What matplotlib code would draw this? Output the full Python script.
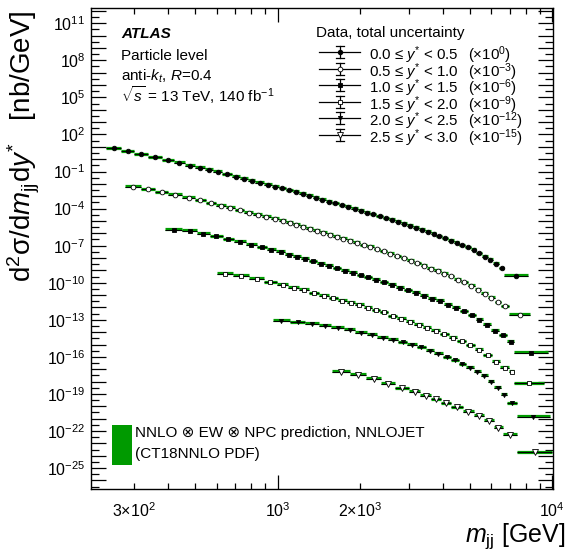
import numpy as np
import matplotlib
matplotlib.use("Agg")
import matplotlib.pyplot as plt
from matplotlib.ticker import FixedLocator, NullFormatter, LogFormatterSciNotation

plt.rcParams['font.family'] = ['Liberation Sans', 'DejaVu Sans']
plt.rcParams['mathtext.fontset'] = 'custom'
plt.rcParams['mathtext.rm'] = 'Liberation Sans'
plt.rcParams['mathtext.it'] = 'Liberation Sans:italic'
plt.rcParams['mathtext.bf'] = 'Liberation Sans:bold'

# ---------------- data (nb/GeV, before the legend multipliers) ----------------
ystar_labels = ["0.0 ≤ $y^{*}$ < 0.5", "0.5 ≤ $y^{*}$ < 1.0", "1.0 ≤ $y^{*}$ < 1.5",
                "1.5 ≤ $y^{*}$ < 2.0", "2.0 ≤ $y^{*}$ < 2.5", "2.5 ≤ $y^{*}$ < 3.0"]
multiplier_labels = ["(×10$^{0}$)", "(×10$^{-3}$)", "(×10$^{-6}$)",
                     "(×10$^{-9}$)", "(×10$^{-12}$)", "(×10$^{-15}$)"]
multipliers = [1e0, 1e-3, 1e-6, 1e-9, 1e-12, 1e-15]

edges_y0 = [238, 269, 300, 338, 378, 419, 460, 501, 542, 583, 628, 680, 730, 779, 830, 890,
            950, 1010, 1070, 1133, 1199, 1268, 1340, 1416, 1496, 1580, 1668, 1760, 1857,
            1958, 2064, 2175, 2291, 2412, 2539, 2672, 2811, 2956, 3108, 3267, 3433, 3606,
            3787, 3976, 4173, 4379, 4594, 4818, 5052, 5296, 5550, 5815, 6091, 6379, 6700, 8130]
xsec_y0 = [7.6, 4.3, 2.45, 1.41, 8.1e-1, 4.9e-1, 2.95e-1, 1.91e-1, 1.32e-1, 9.1e-2,
           5.9e-2, 3.8e-2, 2.63e-2, 1.82e-2, 1.23e-2, 8.5e-3, 6.0e-3, 4.4e-3, 3.1e-3,
           2.19e-3, 1.55e-3, 1.10e-3, 7.6e-4, 5.4e-4, 3.7e-4, 2.63e-4, 1.86e-4, 1.32e-4,
           9.3e-5, 6.8e-5, 4.8e-5, 3.4e-5, 2.4e-5, 1.66e-5, 1.17e-5, 8.1e-6, 5.8e-6,
           4.0e-6, 2.7e-6, 1.86e-6, 1.29e-6, 8.7e-7, 5.9e-7, 3.9e-7, 2.5e-7, 1.66e-7,
           1.07e-7, 7.1e-8, 4.5e-8, 2.45e-8, 1.32e-8, 6.8e-9, 3.3e-9, 1.51e-9, 3.5e-10]

edges_y1 = [278, 318, 358, 400, 450, 500, 548, 597, 647, 700, 756, 816, 878, 942, 1010, 1075,
            1137, 1203, 1273, 1347, 1425, 1508, 1595, 1688, 1786, 1889, 1999, 2115, 2237,
            2367, 2504, 2650, 2803, 2966, 3138, 3320, 3513, 3716, 3932, 4160, 4401, 4657,
            4927, 5212, 5515, 5835, 6173, 6531, 6980, 8330]
xsec_y1 = [5.9, 3.6, 2.1, 1.26, 7.6e-1, 4.7e-1, 2.7e-1, 1.74e-1, 1.12e-1, 7.2e-2, 4.7e-2,
           3.2e-2, 2.19e-2, 1.51e-2, 1.05e-2, 7.1e-3, 5.0e-3, 3.5e-3, 2.4e-3, 1.66e-3,
           1.15e-3, 7.8e-4, 5.1e-4, 3.5e-4, 2.45e-4, 1.70e-4, 1.10e-4, 7.8e-5, 5.2e-5,
           3.5e-5, 2.1e-5, 1.41e-5, 9.5e-6, 5.8e-6, 3.7e-6, 2.45e-6, 1.41e-6, 9.1e-7,
           5.1e-7, 3.2e-7, 1.78e-7, 1.07e-7, 5.9e-8, 2.8e-8, 1.29e-8, 5.8e-9, 2.6e-9,
           1.20e-9, 2.45e-10]

edges_y2 = [388, 450, 507, 567, 630, 695, 767, 838, 912, 988, 1064, 1137, 1216, 1300, 1389,
            1485, 1587, 1696, 1813, 1938, 2071, 2214, 2366, 2529, 2703, 2889, 3088, 3300,
            3527, 3770, 4029, 4306, 4602, 4918, 5256, 5618, 6004, 6417, 6858, 7270, 9680]
xsec_y2 = [1.95, 1.55, 9.3e-1, 5.8e-1, 3.2e-1, 2.0e-1, 1.20e-1, 7.4e-2, 4.7e-2, 3.1e-2,
           1.86e-2, 1.26e-2, 8.3e-3, 5.4e-3, 3.5e-3, 2.3e-3, 1.48e-3, 9.5e-4, 6.3e-4,
           4.1e-4, 2.7e-4, 1.66e-4, 1.05e-4, 6.5e-5, 4.1e-5, 2.45e-5, 1.48e-5, 8.7e-6,
           5.2e-6, 3.3e-6, 1.66e-6, 8.9e-7, 4.8e-7, 2.4e-7, 1.05e-7, 4.0e-8, 1.35e-8,
           5.6e-9, 1.70e-9, 2.1e-10]

edges_y3 = [600, 690, 788, 890, 992, 1094, 1198, 1303, 1416, 1534, 1656, 1786, 1915, 2055,
            2203, 2362, 2530, 2720, 2924, 3143, 3379, 3632, 3905, 4198, 4512, 4851, 5215,
            5606, 6026, 6478, 6964, 7270, 9330]
xsec_y3 = [5.1e-1, 3.7e-1, 2.0e-1, 1.10e-1, 6.9e-2, 3.9e-2, 2.6e-2, 1.41e-2, 8.5e-3,
           5.5e-3, 3.5e-3, 2.3e-3, 1.58e-3, 9.5e-4, 5.9e-4, 4.1e-4, 1.95e-4, 1.17e-4,
           6.8e-5, 3.9e-5, 2.2e-5, 1.26e-5, 6.8e-6, 3.5e-6, 1.78e-6, 8.5e-7, 3.6e-7,
           1.32e-7, 4.2e-8, 1.38e-8, 6.3e-9, 7.2e-10]

edges_y4 = [958, 1110, 1260, 1410, 1570, 1740, 1920, 2110, 2310, 2520, 2740, 2970, 3210,
            3460, 3720, 3990, 4270, 4560, 4860, 5170, 5490, 5820, 6160, 6510, 6870, 7440, 9820]
xsec_y4 = [7.9e-2, 6.3e-2, 4.9e-2, 3.2e-2, 2.2e-2, 1.51e-2, 9.1e-3, 5.8e-3, 3.6e-3,
           2.35e-3, 1.51e-3, 1.0e-3, 5.9e-4, 3.2e-4, 1.70e-4, 9.5e-5, 5.2e-5, 2.6e-5,
           1.29e-5, 6.5e-6, 2.8e-6, 1.0e-6, 3.2e-7, 8.9e-8, 1.78e-8, 1.45e-9]

edges_y5 = [1574, 1830, 2100, 2380, 2680, 3000, 3310, 3610, 3925, 4280, 4720, 5190, 5640,
            6120, 6600, 7440, 10000]
xsec_y5 = [6.3e-3, 3.6e-3, 1.62e-3, 6.5e-4, 2.9e-4, 1.51e-4, 7.2e-5, 3.7e-5, 1.78e-5,
           8.3e-6, 3.5e-6, 1.66e-6, 6.5e-7, 1.86e-7, 4.8e-8, 1.91e-9]

all_edges = [edges_y0, edges_y1, edges_y2, edges_y3, edges_y4, edges_y5]
all_xsec = [xsec_y0, xsec_y1, xsec_y2, xsec_y3, xsec_y4, xsec_y5]

x_tick_values = [300, 1000, 2000, 10000]
x_tick_labels = ["3×10$^{2}$", "10$^{3}$", "2×10$^{3}$", "10$^{4}$"]

# ---------------- style ----------------
markers = ['o', 'o', 's', 's', 'v', 'v']
filled = [True, False, True, False, True, False]
msizes = [3.3, 3.4, 3.2, 3.3, 3.0, 3.8]
GREEN = '#009a00'

W, H = 569, 553
fig = plt.figure(figsize=(W / 100, H / 100), dpi=100)
L, R, T, B = 91, 553, 8, 489
ax = fig.add_axes([L / W, 1 - B / H, (R - L) / W, (B - T) / H])
ax.set_xscale('log')
ax.set_yscale('log')
ax.set_xlim(209, 10067)
ax.set_ylim(10 ** -26.69, 10 ** 12.23)

for i in range(6):
    e = np.array(all_edges[i], dtype=float)
    v = np.array(all_xsec[i]) * multipliers[i]
    lo, hi = e[:-1], e[1:]
    cen = np.sqrt(lo * hi)
    ax.hlines(v * 1.12, lo, hi, color=GREEN, lw=2.3, zorder=2)
    ax.hlines(v, lo, hi, color='black', lw=0.7, zorder=3)
    ax.plot(cen, v, ls='none', marker=markers[i], ms=msizes[i],
            mfc='black' if filled[i] else 'white', mec='black', mew=0.6, zorder=4)

# ticks
ax.xaxis.set_major_locator(FixedLocator([1000, 10000]))
ax.xaxis.set_minor_locator(FixedLocator([300, 400, 500, 600, 700, 800, 900,
                                         2000, 3000, 4000, 5000, 6000, 7000, 8000, 9000]))
ax.xaxis.set_major_formatter(NullFormatter())
ax.xaxis.set_minor_formatter(NullFormatter())
ax.tick_params(axis='x', which='major', length=10)
ax.tick_params(axis='x', which='minor', length=4.5)

# y: every decade long, half decades short; labels every third decade
ax.yaxis.set_major_locator(FixedLocator([10.0 ** k for k in range(-26, 13)]))
ax.yaxis.set_minor_locator(FixedLocator([10.0 ** (k + 0.5) for k in range(-27, 13)]))
sci = LogFormatterSciNotation()
def ylab(val, pos=None):
    k = int(round(np.log10(val)))
    return sci(val, pos) if k % 3 == 2 or k % 3 == -1 else ""
ax.yaxis.set_major_formatter(ylab)
ax.yaxis.set_minor_formatter(NullFormatter())
ax.tick_params(axis='y', which='major', length=10.5)
ax.tick_params(axis='y', which='minor', length=5.5)

ax.tick_params(which='both', direction='in', top=True, right=True, width=0.9, labelsize=11.5)
ax.tick_params(axis='y', which='major', pad=4)
for s in ax.spines.values():
    s.set_linewidth(1.0)

for xv, lab in zip(x_tick_values, x_tick_labels):
    ax.text(xv, -0.025, lab, transform=ax.get_xaxis_transform(), ha='center', va='top',
            fontsize=11.5)

# axis titles
fig.text(24 / W, 1 - 10 / H, "d$^{2}$σ/d$m_{\\rm jj}$d$y^{*}$   [nb/GeV]", rotation=90,
         ha='center', va='top', fontsize=20)
fig.text(565 / W, 1 - 542 / H, "$m_{\\rm jj}$ [GeV]", ha='right', va='baseline', fontsize=18)

# ATLAS label block
fig.text(121 / W, 1 - 38 / H, "ATLAS", fontsize=11, fontweight='bold', style='italic')
fig.text(121 / W, 1 - 60 / H, "Particle level", fontsize=11)
fig.text(121 / W, 1 - 81 / H, "anti-$k_{t}$, $R$=0.4", fontsize=11)
fig.text(121 / W, 1 - 102 / H, "$\\sqrt{s}$ = 13 TeV, 140 fb$^{-1}$", fontsize=11)

# data legend
fig.text(316 / W, 1 - 37 / H, "Data, total uncertainty", fontsize=11)
rows = [52.3, 68.7, 85.0, 101.7, 118.3, 135.0]
for i, yr in enumerate(rows):
    yf = 1 - yr / H
    fig.add_artist(plt.Line2D([319 / W, 360 / W], [yf, yf], color='black', lw=0.9))
    fig.add_artist(plt.Line2D([340 / W, 340 / W], [yf - 6 / H, yf + 6 / H], color='black', lw=0.9))
    fig.add_artist(plt.Line2D([336 / W, 344 / W], [yf - 6 / H, yf - 6 / H], color='black', lw=0.9))
    fig.add_artist(plt.Line2D([336 / W, 344 / W], [yf + 6 / H, yf + 6 / H], color='black', lw=0.9))
    fig.add_artist(plt.Line2D([340 / W], [yf], ls='none', marker=markers[i], ms=msizes[i],
                              mfc='black' if filled[i] else 'white', mec='black', mew=0.6))
    fig.text(369 / W, yf, ystar_labels[i], fontsize=10.8, va='center_baseline')
    fig.text(468 / W, yf, multiplier_labels[i], fontsize=10.8, va='center_baseline')

# prediction legend
fig.add_artist(plt.Rectangle((112 / W, 1 - 465 / H), 20 / W, 40 / H, color=GREEN, lw=0))
fig.text(135 / W, 1 - 437 / H, "NNLO ⊗ EW ⊗ NPC prediction, NNLOJET", fontsize=11)
fig.text(135 / W, 1 - 458 / H, "(CT18NNLO PDF)", fontsize=11)

fig.savefig("out.png", dpi=100)
